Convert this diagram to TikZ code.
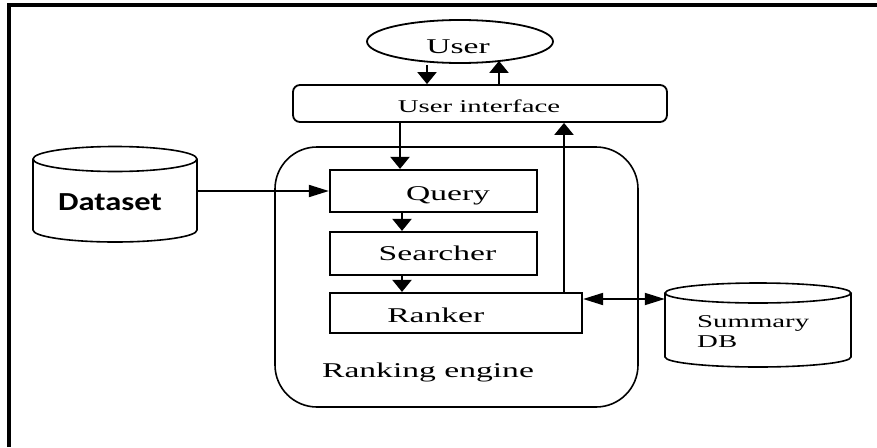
\documentclass[tikz,border=0pt]{standalone}
\usepackage{fontspec}
\setmainfont{Liberation Serif}
\newfontfamily\dsfont{Carlito}
\usetikzlibrary{arrows.meta,shapes.geometric}
\begin{document}
\begin{tikzpicture}[x=1pt,y=-1pt,
  lbl/.style={anchor=base,inner sep=0pt,font=\fontsize{21}{24}\selectfont},
  slbl/.style={anchor=base west,inner sep=0pt,font=\fontsize{18}{20}\selectfont},
  sqbox/.style={draw,line width=2.2pt,minimum width=#1,inner sep=0pt},
  ghost/.style={inner sep=0pt,minimum width=#1},
  varr/.style={line width=2.2pt,-{Triangle[length=12pt,width=19pt]}},
  harr/.style={line width=1.8pt,-{Triangle[length=20pt,width=12pt]}},
  darr/.style={line width=1.8pt,{Triangle[length=20pt,width=12pt]}-{Triangle[length=20pt,width=12pt]}},
  cyl/.style={line width=1.6pt}]
\path[use as bounding box,fill=white] (0,0) rectangle (877,447);
% frame (right and bottom edges cropped)
\draw[line width=3.5pt] (9,447) -- (9,5) -- (877,5);

% user
\node[draw,ellipse,line width=1.8pt,minimum width=186pt,minimum height=43pt,inner sep=0pt] (user) at (460,41.5) {};
\node[lbl] (usert) at (458,53) {\scalebox{1.6}[1]{User}};

% user interface
\node[draw,rounded corners=7pt,line width=1.8pt,minimum width=374pt,minimum height=37pt,inner sep=0pt] (ui) at (480,103.5) {};
\node[anchor=base,inner sep=0pt,font=\fontsize{18}{20}\selectfont] (uit) at (479,112) {\scalebox{1.6}[1]{User interface}};

% ranking engine container
\node[draw,rounded corners=42pt,line width=1.6pt,minimum width=363pt,minimum height=260pt,inner sep=0pt] (engine) at (456.5,277) {};
\node[lbl] (enginet) at (428,377) {\scalebox{1.6}[1]{Ranking engine}};

% inner boxes
\node[sqbox=207pt,minimum height=42pt] (query) at (433.5,191) {};
\node[lbl] (queryt) at (448,200) {\scalebox{1.6}[1]{Query}};
\node[sqbox=207pt,minimum height=43pt] (searcher) at (433.5,253.5) {};
\node[lbl] (searchert) at (437.5,260) {\scalebox{1.6}[1]{Searcher}};
\node[sqbox=252pt,minimum height=40pt] (ranker) at (456,313) {};
\node[lbl] (rankert) at (435.8,322) {\scalebox{1.6}[1]{Ranker}};

% dataset cylinder
\node[ghost=164pt,minimum height=71pt] (dataset) at (115,194.5) {};
\draw[cyl] (115,159) ellipse[x radius=82pt,y radius=12.5pt];
\draw[cyl] (33,159) -- (33,230) arc[start angle=180,end angle=360,x radius=82pt,y radius=12pt] -- (197,159);
\node[anchor=base,inner sep=0pt,font=\dsfont\bfseries\fontsize{26}{28}\selectfont] (datasett) at (110,210) {\scalebox{1.25}[1]{Dataset}};

% summary db cylinder
\node[ghost=186pt,minimum height=64pt] (sdb) at (758,325) {};
\draw[cyl] (758,293) ellipse[x radius=93pt,y radius=10pt];
\draw[cyl] (665,293) -- (665,357) arc[start angle=180,end angle=360,x radius=93pt,y radius=10pt] -- (851,293);
\node[slbl] (sdbt1) at (697,327) {\scalebox{1.6}[1]{Summary}};
\node[slbl] (sdbt2) at (697,347) {\scalebox{1.6}[1]{DB}};

% connectors
\coordinate (rk) at ([yshift=14pt]ranker.east);
\draw[varr] ([xshift=-33pt,yshift=-1pt]user.south) -- ([xshift=-53pt]ui.north);
\draw[varr] ([xshift=19pt]ui.north) -- ([xshift=39pt,yshift=3pt]user.south);
\draw[varr] ([xshift=-80pt]ui.south) -- ([xshift=-33.5pt]query.north);
\draw[varr] ([xshift=-31.5pt]query.south) -- ([xshift=-31.5pt]searcher.north);
\draw[varr] ([xshift=-31.5pt]searcher.south) -- ([xshift=-54pt]ranker.north);
\draw[varr] ([xshift=108pt]ranker.north) -- ([xshift=84pt]ui.south);
\draw[harr] (dataset.east |- query.west) -- (query.west);
\draw[darr] (rk) -- (sdb.west |- rk);
\end{tikzpicture}
\end{document}
